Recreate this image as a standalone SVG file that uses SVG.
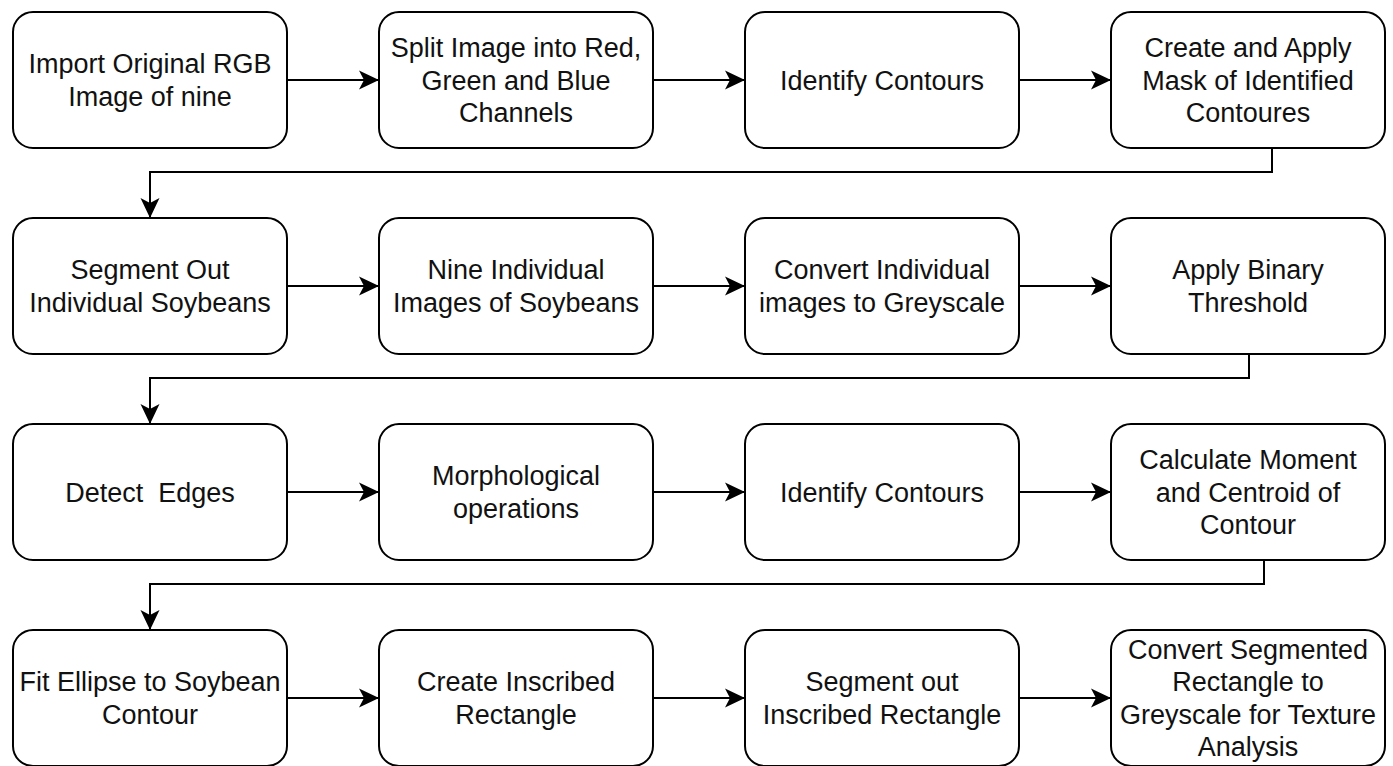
<svg xmlns="http://www.w3.org/2000/svg" width="1393" height="766" viewBox="0 0 1393 766">
<style>
.box{fill:#fff;stroke:#000;stroke-width:2}
.t{font-family:"Liberation Sans",Arial,sans-serif;font-size:27px;fill:#111;text-anchor:middle;white-space:pre}
.c{fill:none;stroke:#000;stroke-width:2}
</style>
<defs>
<marker id="ah" markerUnits="userSpaceOnUse" markerWidth="22" markerHeight="22" viewBox="-21 -11 22 22" refX="0" refY="0" orient="auto">
<path d="M0,0 L-20,-9.5 L-15,0 L-20,9.5 Z" fill="#000"/>
</marker>
</defs>
<rect width="1393" height="766" fill="#fff"/>
<g id="connectors">
<path class="c" d="M287,80 H379" marker-end="url(#ah)"/>
<path class="c" d="M653,80 H745" marker-end="url(#ah)"/>
<path class="c" d="M1019,80 H1111" marker-end="url(#ah)"/>
<path class="c" d="M1272,148 V172 H150 V218" marker-end="url(#ah)"/>
<path class="c" d="M287,286 H379" marker-end="url(#ah)"/>
<path class="c" d="M653,286 H745" marker-end="url(#ah)"/>
<path class="c" d="M1019,286 H1111" marker-end="url(#ah)"/>
<path class="c" d="M1249,354 V378 H150 V424" marker-end="url(#ah)"/>
<path class="c" d="M287,492 H379" marker-end="url(#ah)"/>
<path class="c" d="M653,492 H745" marker-end="url(#ah)"/>
<path class="c" d="M1019,492 H1111" marker-end="url(#ah)"/>
<path class="c" d="M1264,560 V584 H150 V630" marker-end="url(#ah)"/>
<path class="c" d="M287,698 H379" marker-end="url(#ah)"/>
<path class="c" d="M653,698 H745" marker-end="url(#ah)"/>
<path class="c" d="M1019,698 H1111" marker-end="url(#ah)"/>
</g>
<g id="n1"><rect class="box" x="13" y="12" width="274" height="136" rx="20"/><text class="t" x="150" y="73.3">Import Original RGB</text><text class="t" x="150" y="105.7">Image of nine</text></g>
<g id="n2"><rect class="box" x="379" y="12" width="274" height="136" rx="20"/><text class="t" x="516" y="57.1">Split Image into Red,</text><text class="t" x="516" y="89.5">Green and Blue</text><text class="t" x="516" y="121.9">Channels</text></g>
<g id="n3"><rect class="box" x="745" y="12" width="274" height="136" rx="20"/><text class="t" x="882" y="89.5">Identify Contours</text></g>
<g id="n4"><rect class="box" x="1111" y="12" width="274" height="136" rx="20"/><text class="t" x="1248" y="57.1">Create and Apply</text><text class="t" x="1248" y="89.5">Mask of Identified</text><text class="t" x="1248" y="121.9">Contoures</text></g>

<g id="n5"><rect class="box" x="13" y="218" width="274" height="136" rx="20"/><text class="t" x="150" y="279.3">Segment Out</text><text class="t" x="150" y="311.7">Individual Soybeans</text></g>
<g id="n6"><rect class="box" x="379" y="218" width="274" height="136" rx="20"/><text class="t" x="516" y="279.3">Nine Individual</text><text class="t" x="516" y="311.7">Images of Soybeans</text></g>
<g id="n7"><rect class="box" x="745" y="218" width="274" height="136" rx="20"/><text class="t" x="882" y="279.3">Convert Individual</text><text class="t" x="882" y="311.7">images to Greyscale</text></g>
<g id="n8"><rect class="box" x="1111" y="218" width="274" height="136" rx="20"/><text class="t" x="1248" y="279.3">Apply Binary</text><text class="t" x="1248" y="311.7">Threshold</text></g>

<g id="n9"><rect class="box" x="13" y="424" width="274" height="136" rx="20"/><text class="t" x="150" y="501.5" xml:space="preserve">Detect  Edges</text></g>
<g id="n10"><rect class="box" x="379" y="424" width="274" height="136" rx="20"/><text class="t" x="516" y="485.3">Morphological</text><text class="t" x="516" y="517.7">operations</text></g>
<g id="n11"><rect class="box" x="745" y="424" width="274" height="136" rx="20"/><text class="t" x="882" y="501.5">Identify Contours</text></g>
<g id="n12"><rect class="box" x="1111" y="424" width="274" height="136" rx="20"/><text class="t" x="1248" y="469.1">Calculate Moment</text><text class="t" x="1248" y="501.5">and Centroid of</text><text class="t" x="1248" y="533.9">Contour</text></g>

<g id="n13"><rect class="box" x="13" y="630" width="274" height="136" rx="20"/><text class="t" x="150" y="691.3">Fit Ellipse to Soybean</text><text class="t" x="150" y="723.7">Contour</text></g>
<g id="n14"><rect class="box" x="379" y="630" width="274" height="136" rx="20"/><text class="t" x="516" y="691.3">Create Inscribed</text><text class="t" x="516" y="723.7">Rectangle</text></g>
<g id="n15"><rect class="box" x="745" y="630" width="274" height="136" rx="20"/><text class="t" x="882" y="691.3">Segment out</text><text class="t" x="882" y="723.7">Inscribed Rectangle</text></g>
<g id="n16"><rect class="box" x="1111" y="630" width="274" height="136" rx="20"/><text class="t" x="1248" y="658.9">Convert Segmented</text><text class="t" x="1248" y="691.3">Rectangle to</text><text class="t" x="1248" y="723.7">Greyscale for Texture</text><text class="t" x="1248" y="756.1">Analysis</text></g>
</svg>
